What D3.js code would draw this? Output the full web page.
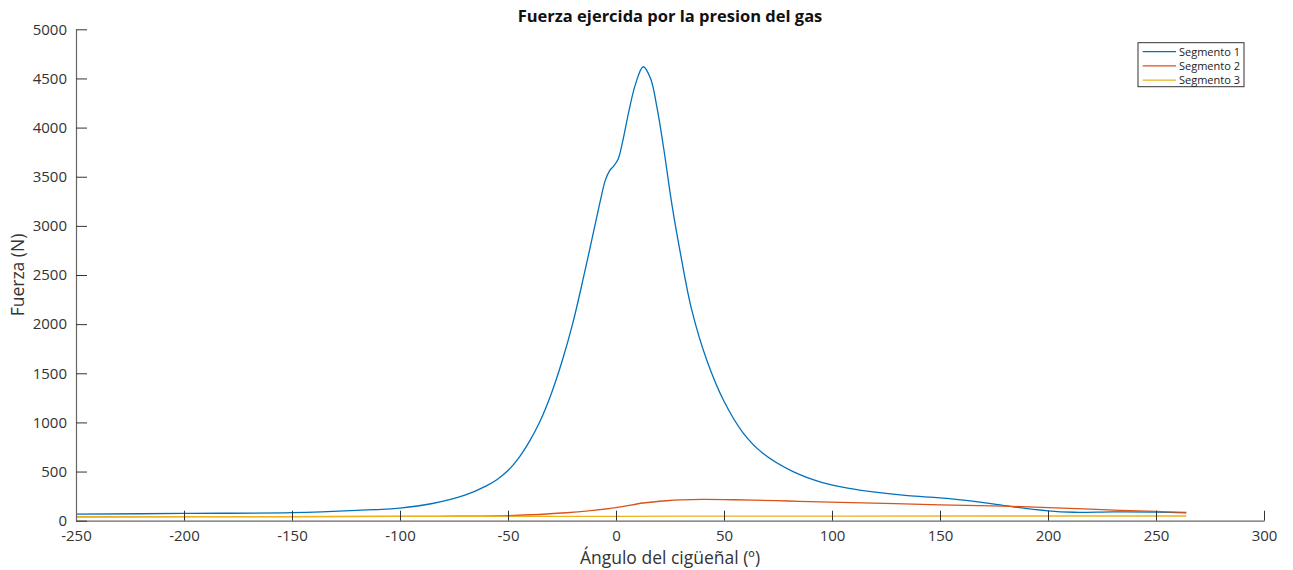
<!DOCTYPE html>
<html>
<head>
<meta charset="utf-8">
<script src="https://cdn.jsdelivr.net/npm/d3@7"></script>
<style>
  body { margin: 0; background: #fff; }
  svg { display: block; }
</style>
</head>
<body>
<svg id="chart"></svg>
<script>
// Segmento 1 (fuerza del gas)
const seg1Angle = [-250, -200, -150, -120, -100, -85, -70, -60, -55, -50, -45, -40, -35, -30, -25, -20, -15, -10, -7, -5, -3, -1, 1, 3, 6, 9, 12.6, 16, 19, 22, 26, 30, 35, 42, 50, 59, 68, 82, 96, 108, 120, 135, 150, 165, 181, 200, 212, 230, 250, 264];
const seg1Force = [66, 74, 82, 105, 129, 175, 260, 355, 420, 510, 640, 810, 1020, 1290, 1620, 2010, 2480, 2980, 3280, 3460, 3560, 3610, 3680, 3850, 4170, 4440, 4619, 4500, 4200, 3800, 3200, 2700, 2150, 1635, 1215, 889, 686, 499, 385, 330, 290, 255, 232, 200, 150, 100, 86, 90, 88, 80];

// Segmento 2
const seg2Angle = [-250, -150, -100, -75, -50, -23, 0, 12.6, 23.5, 30, 40, 55, 74, 85, 104, 150, 180, 200, 225, 250, 264];
const seg2Force = [40, 42, 44, 46, 52, 81, 132, 180, 203, 211, 216, 213, 204, 197, 187, 162, 148, 134, 112, 94, 84];

// Segmento 3
const seg3Angle = [-250, -100, 0, 100, 264];
const seg3Force = [42, 43, 45, 47, 48];

const seriesNames = ["Segmento 1", "Segmento 2", "Segmento 3"];
const xTicks = [-250, -200, -150, -100, -50, 0, 50, 100, 150, 200, 250, 300];
const yTicks = [0, 500, 1000, 1500, 2000, 2500, 3000, 3500, 4000, 4500, 5000];

const width = 1293;
const height = 570;
const margin = { top: 29.3, right: 29, bottom: 49.3, left: 76 };
const colors = ["#0072BD", "#D95319", "#EDB120"];

const svg = d3.select("#chart")
  .attr("width", width)
  .attr("height", height);

const innerWidth = width - margin.left - margin.right;
const innerHeight = height - margin.top - margin.bottom;

const x = d3.scaleLinear()
  .domain([-250, 300])
  .range([0, innerWidth]);

const y = d3.scaleLinear()
  .domain([0, 5000])
  .range([innerHeight, 0]);

const g = svg.append("g")
  .attr("transform", `translate(${margin.left},${margin.top})`);

const series = [
  seg1Angle.map((a, i) => ({ a, f: seg1Force[i] })),
  seg2Angle.map((a, i) => ({ a, f: seg2Force[i] })),
  seg3Angle.map((a, i) => ({ a, f: seg3Force[i] }))
];

const line = d3.line()
  .x(d => x(d.a))
  .y(d => y(d.f))
  .curve(d3.curveCatmullRom.alpha(0.5));

series.forEach((s, i) => {
  g.append("path")
    .datum(s)
    .attr("fill", "none")
    .attr("stroke", colors[i])
    .attr("stroke-width", 1.3)
    .attr("d", line);
});

// ejes (guion normal en los negativos, sin separador de miles)
const fmt = d => String(d);

const xAxis = g.append("g")
  .attr("transform", `translate(0,${innerHeight})`)
  .call(d3.axisBottom(x).tickValues(xTicks).tickFormat(fmt)
    .tickSizeInner(-10).tickSizeOuter(0).tickPadding(10));

const yAxis = g.append("g")
  .call(d3.axisLeft(y).tickValues(yTicks).tickFormat(fmt)
    .tickSizeInner(-11).tickSizeOuter(0).tickPadding(9));

[xAxis, yAxis].forEach(ax => {
  ax.select(".domain").attr("stroke", "#666").attr("stroke-width", 1.2);
  ax.selectAll(".tick line").attr("stroke", "#333");
  ax.selectAll(".tick text")
    .attr("fill", "#333")
    .style("font-family", "'Open Sans', sans-serif")
    .style("font-size", "15px");
});

// titulos
svg.append("text")
  .attr("x", margin.left + innerWidth / 2)
  .attr("y", 22)
  .attr("text-anchor", "middle")
  .style("font-family", "'Open Sans', sans-serif")
  .style("font-weight", "bold")
  .style("font-size", "16.5px")
  .attr("fill", "#111")
  .text("Fuerza ejercida por la presion del gas");

svg.append("text")
  .attr("x", margin.left + innerWidth / 2)
  .attr("y", 564)
  .attr("text-anchor", "middle")
  .style("font-family", "'Open Sans', sans-serif")
  .style("font-size", "17.5px")
  .attr("fill", "#333")
  .text("Ángulo del cigüeñal (º)");

svg.append("text")
  .attr("transform", `translate(24,${margin.top + innerHeight / 2}) rotate(-90)`)
  .attr("text-anchor", "middle")
  .style("font-family", "'Open Sans', sans-serif")
  .style("font-size", "17.5px")
  .attr("fill", "#333")
  .text("Fuerza (N)");

// leyenda
const legend = svg.append("g")
  .attr("transform", "translate(1138,42.7)");

legend.append("rect")
  .attr("width", 106)
  .attr("height", 44)
  .attr("fill", "#fff")
  .attr("stroke", "#333")
  .attr("stroke-width", 1);

seriesNames.forEach((name, i) => {
  const ly = 9 + i * 14.2;
  legend.append("line")
    .attr("x1", 4.7)
    .attr("x2", 38)
    .attr("y1", ly)
    .attr("y2", ly)
    .attr("stroke", colors[i])
    .attr("stroke-width", 1.3);
  legend.append("text")
    .attr("x", 41)
    .attr("y", ly + 4)
    .style("font-family", "'Open Sans', sans-serif")
    .style("font-size", "11px")
    .attr("fill", "#222")
    .text(name);
});
</script>
</body>
</html>
